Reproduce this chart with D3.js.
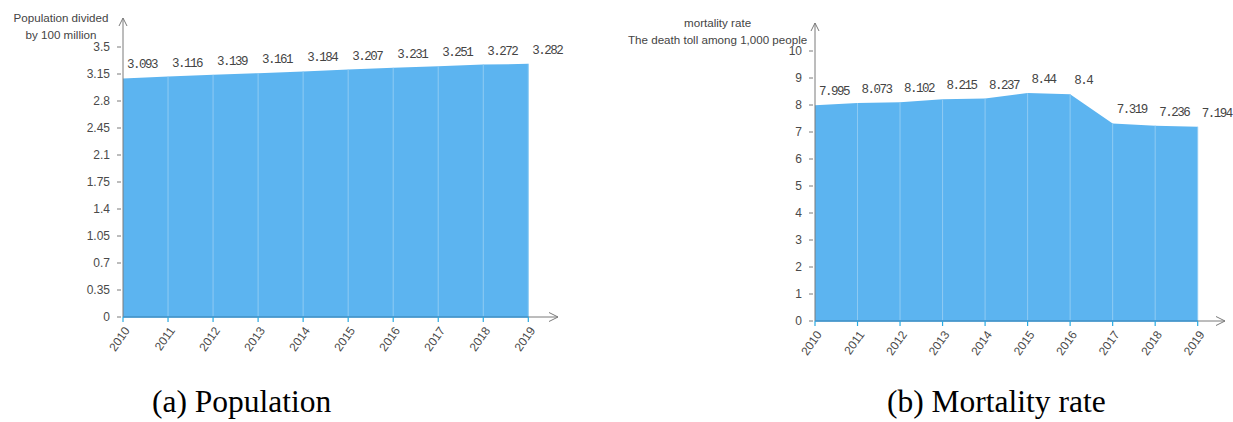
<!DOCTYPE html>
<html>
<head>
<meta charset="utf-8">
<script src="https://cdn.jsdelivr.net/npm/d3@7"></script>
<style>
  html, body { margin: 0; padding: 0; background: #fff; }
  svg { display: block; }
</style>
</head>
<body>
<svg id="chart" width="1233" height="422"></svg>
<script>
// Years shared by both panels
const years = [2010, 2011, 2012, 2013, 2014, 2015, 2016, 2017, 2018, 2019];

// (a) population, in units of 100 million
const population = [3.093, 3.116, 3.139, 3.161, 3.184, 3.207, 3.231, 3.251, 3.272, 3.282];
const populationTicks = [0, 0.35, 0.7, 1.05, 1.4, 1.75, 2.1, 2.45, 2.8, 3.15, 3.5];

// (b) deaths per 1,000 people
const mortality = [7.995, 8.073, 8.102, 8.215, 8.237, 8.44, 8.4, 7.319, 7.236, 7.194];
const mortalityTicks = [0, 1, 2, 3, 4, 5, 6, 7, 8, 9, 10];

const svg = d3.select("#chart");

const AREA = "#5cb4f0";
const GRID = "#8fcbf3";
const AXIS_GREY = "#7a7a7a";
const AXIS_BLUE = "#3b9ad8";
const TICK_BLUE = "#2aaae2";

function panel(opts) {
  const g = svg.append("g");
  const x = d3.scalePoint().domain(years).range([opts.x0, opts.x1]);
  const y = d3.scaleLinear().domain([0, opts.yMax]).range([opts.yBottom, opts.yTop]);
  const base = y(0);
  const data = years.map((yr, i) => ({ yr, v: opts.values[i] }));

  // filled area
  const area = d3.area().x(d => x(d.yr)).y0(base).y1(d => y(d.v));
  g.append("path").datum(data).attr("d", area).attr("fill", AREA);

  // light vertical separators at each year inside the area
  g.selectAll("line.sep").data(data.slice(1)).join("line")
    .attr("class", "sep")
    .attr("x1", d => x(d.yr)).attr("x2", d => x(d.yr))
    .attr("y1", d => y(d.v)).attr("y2", base)
    .attr("stroke", GRID).attr("stroke-width", 1);

  // y axis with arrow
  const ax = opts.x0;
  g.append("line").attr("x1", ax).attr("x2", ax).attr("y1", base).attr("y2", opts.arrowTop)
    .attr("stroke", AXIS_GREY).attr("stroke-width", 1);
  g.append("path")
    .attr("d", `M${ax - 4},${opts.arrowTop + 8}L${ax},${opts.arrowTop}L${ax + 4},${opts.arrowTop + 8}`)
    .attr("fill", "none").attr("stroke", AXIS_GREY).attr("stroke-width", 1);

  // y ticks and labels
  const yt = g.selectAll("g.ytick").data(opts.ticks).join("g")
    .attr("class", "ytick")
    .attr("transform", d => `translate(0,${y(d)})`);
  yt.append("line").attr("x1", ax - 6).attr("x2", ax - 2)
    .attr("stroke", AXIS_GREY).attr("stroke-width", 1);
  yt.append("text").attr("x", ax - 13).attr("dy", "0.35em")
    .attr("text-anchor", "end")
    .attr("font-family", "Liberation Sans, Arial, sans-serif")
    .attr("font-size", 12).attr("fill", "#4a4a4a")
    .text(d => d);

  // x axis: grey full length with arrow, blue under the area
  g.append("line").attr("x1", ax).attr("x2", opts.arrowRight).attr("y1", base).attr("y2", base)
    .attr("stroke", AXIS_GREY).attr("stroke-width", 1);
  g.append("path")
    .attr("d", `M${opts.arrowRight - 9},${base - 4.5}L${opts.arrowRight},${base}L${opts.arrowRight - 9},${base + 4.5}`)
    .attr("fill", "none").attr("stroke", AXIS_GREY).attr("stroke-width", 1);
  g.append("line").attr("x1", opts.x0).attr("x2", opts.x1).attr("y1", base).attr("y2", base)
    .attr("stroke", AXIS_BLUE).attr("stroke-width", 1.5);

  // x ticks and rotated year labels
  const xt = g.selectAll("g.xtick").data(years).join("g")
    .attr("class", "xtick")
    .attr("transform", d => `translate(${x(d)},${base})`);
  xt.append("line").attr("y1", 0).attr("y2", 5)
    .attr("stroke", TICK_BLUE).attr("stroke-width", 1.2);
  xt.append("text")
    .attr("transform", "translate(4,11) rotate(-55)")
    .attr("text-anchor", "end").attr("dy", "0.35em")
    .attr("font-family", "Liberation Sans, Arial, sans-serif")
    .attr("font-size", 12).attr("fill", "#4a4a4a")
    .text(d => d);

  // value labels above each point
  g.selectAll("text.val").data(data).join("text")
    .attr("class", "val")
    .attr("x", d => x(d.yr) + 4)
    .attr("y", d => y(d.v) - 10)
    .attr("font-family", "Liberation Mono, DejaVu Sans Mono, monospace")
    .attr("font-size", 12.5).attr("letter-spacing", "-1.5px")
    .attr("fill", "#444")
    .text(d => d.v);

  // axis title (two lines, centred)
  g.append("text")
    .attr("text-anchor", "middle")
    .attr("font-family", "Liberation Sans, Arial, sans-serif")
    .attr("font-size", 11.6).attr("fill", "#444")
    .selectAll("tspan").data(opts.title).join("tspan")
    .attr("x", opts.titleX)
    .attr("y", (d, i) => opts.titleY + i * 17)
    .text(d => d);

  // caption
  svg.append("text")
    .attr("x", opts.capX).attr("y", 412)
    .attr("font-family", "Liberation Serif, Times New Roman, serif")
    .attr("font-size", 31.5).attr("fill", "#000")
    .text(opts.caption);
}

panel({
  values: population, ticks: populationTicks, yMax: 3.5,
  x0: 123, x1: 528.3, yBottom: 317, yTop: 47, arrowTop: 18, arrowRight: 558,
  title: ["Population divided", "by 100 million"], titleX: 61, titleY: 22,
  caption: "(a) Population", capX: 152
});

panel({
  values: mortality, ticks: mortalityTicks, yMax: 10,
  x0: 815, x1: 1197.7, yBottom: 321, yTop: 51, arrowTop: 23, arrowRight: 1225,
  title: ["mortality rate", "The death toll among 1,000 people"], titleX: 717.6, titleY: 27,
  caption: "(b) Mortality rate", capX: 887
});
</script>
</body>
</html>
